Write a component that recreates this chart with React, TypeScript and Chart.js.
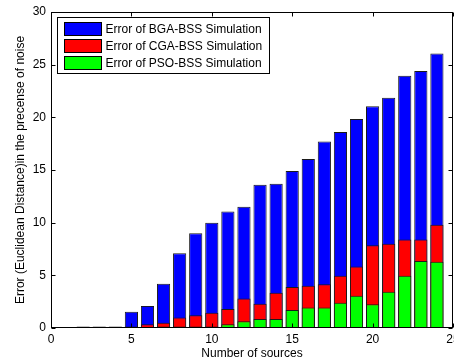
import React, { useEffect, useRef } from 'react';
import { Chart, registerables } from 'chart.js';

Chart.register(...registerables);

const sources = [2, 3, 4, 5, 6, 7, 8, 9, 10, 11, 12, 13, 14, 15, 16, 17, 18, 19, 20, 21, 22, 23, 24];
const bgaError = [0.15, 0.15, 0.15, 1.55, 2.1, 4.2, 7.1, 9.0, 10.0, 11.05, 11.5, 13.6, 13.7, 14.9, 16.05, 17.7, 18.6, 19.85, 21.05, 21.85, 23.95, 24.4, 26.05];
const cgaError = [0, 0, 0, 0.15, 0.35, 0.5, 1.0, 1.2, 1.45, 1.8, 2.8, 2.3, 3.35, 3.9, 4.0, 4.15, 4.95, 5.85, 7.85, 8.0, 8.4, 8.4, 9.8];
const psoError = [0, 0, 0, 0.05, 0.05, 0.15, 0.15, 0.15, 0.15, 0.35, 0.65, 0.85, 0.85, 1.7, 1.95, 1.95, 2.4, 3.05, 2.25, 3.45, 4.95, 6.35, 6.3];
const xTicks = [0, 5, 10, 15, 20, 25];
const yTicks = [0, 5, 10, 15, 20, 25, 30];
const seriesLabels = ['Error of BGA-BSS Simulation', 'Error of CGA-BSS Simulation', 'Error of PSO-BSS Simulation'];
const seriesColors = ['#0000ff', '#ff0000', '#00ff00'];
const xTitle = 'Number of sources';
const yTitle = 'Error (Euclidean Distance)in the precense of noise';

const FONT = "'Liberation Sans', Arial, Helvetica, sans-serif";

const framePlugin = {
  id: 'matlabFrame',
  afterDatasetsDraw(chart: any) {
    const { ctx, chartArea: a, scales } = chart;
    ctx.save();
    ctx.strokeStyle = '#000';
    ctx.lineWidth = 1;
    const L = Math.round(a.left) + 0.5;
    const R = Math.round(a.right) - 0.5;
    const T = Math.round(a.top) + 0.5;
    const B = Math.round(a.bottom) - 0.5;
    ctx.strokeRect(L, T, R - L, B - T);
    const tl = 4;
    ctx.beginPath();
    xTicks.forEach((v) => {
      const x = Math.round(scales.x.getPixelForValue(v)) + 0.5;
      ctx.moveTo(x, B);
      ctx.lineTo(x, B - tl);
      ctx.moveTo(x, T);
      ctx.lineTo(x, T + tl);
    });
    yTicks.forEach((v) => {
      const y = Math.round(scales.y.getPixelForValue(v)) + 0.5;
      ctx.moveTo(L, y);
      ctx.lineTo(L + tl, y);
      ctx.moveTo(R, y);
      ctx.lineTo(R - tl, y);
    });
    ctx.stroke();

    // legend box
    const lx = 57.5, ly = 17.5, lw = 212, lh = 56;
    ctx.fillStyle = '#fff';
    ctx.fillRect(lx, ly, lw, lh);
    ctx.strokeRect(lx, ly, lw, lh);
    ctx.font = `12px ${FONT}`;
    ctx.textBaseline = 'middle';
    ctx.textAlign = 'left';
    seriesLabels.forEach((label, i) => {
      const ry = 22.5 + i * 17;
      ctx.fillStyle = seriesColors[i];
      ctx.fillRect(64.5, ry, 37, 13);
      ctx.strokeRect(64.5, ry, 37, 13);
      ctx.fillStyle = '#000';
      ctx.fillText(label, 105.5, ry + 7);
    });
    ctx.restore();
  },
};

export default function App() {
  const ref = useRef<HTMLCanvasElement>(null);
  useEffect(() => {
    document.body.style.margin = '0';
    document.body.style.overflow = 'hidden';
    const canvas = ref.current!;
    const mk = (vals: number[]) => sources.map((x, i) => ({ x, y: vals[i] }));
    const common = {
      borderColor: '#1a1a1a',
      borderWidth: 1,
      borderSkipped: false,
      grouped: false,
      barPercentage: 0.82,
      categoryPercentage: 1.0,
    };
    const chart = new Chart(canvas, {
      type: 'bar',
      data: {
        datasets: [
          { label: seriesLabels[2], data: mk(psoError), backgroundColor: seriesColors[2], order: 0, ...common },
          { label: seriesLabels[1], data: mk(cgaError), backgroundColor: seriesColors[1], order: 1, ...common },
          { label: seriesLabels[0], data: mk(bgaError), backgroundColor: seriesColors[0], order: 2, ...common },
        ] as any,
      },
      options: {
        animation: false,
        responsive: false,
        devicePixelRatio: 1,
        layout: { autoPadding: false, padding: { top: 12, right: 1, bottom: 0, left: 0 } },
        plugins: { legend: { display: false }, tooltip: { enabled: false } },
        scales: {
          x: {
            type: 'linear',
            min: 0,
            max: 25,
            offset: false,
            grid: { display: false, drawTicks: false },
            border: { display: false },
            afterBuildTicks: (s: any) => { s.ticks = xTicks.map((v) => ({ value: v })); },
            afterFit: (s: any) => { s.height = 34; s.paddingLeft = 0; s.paddingRight = 0; },
            ticks: { color: '#000', font: { family: FONT, size: 12 }, padding: 4, maxRotation: 0, autoSkip: false },
            title: { display: true, text: xTitle, color: '#000', font: { family: FONT, size: 12 }, padding: { top: 0, bottom: 1 } },
          },
          y: {
            type: 'linear',
            min: 0,
            max: 30,
            grid: { display: false, drawTicks: false },
            border: { display: false },
            afterBuildTicks: (s: any) => { s.ticks = yTicks.map((v) => ({ value: v })); },
            afterFit: (s: any) => { s.width = 51; s.paddingTop = 0; s.paddingBottom = 0; },
            ticks: { color: '#000', font: { family: FONT, size: 12 }, padding: 5 },
            title: { display: true, text: yTitle, color: '#000', font: { family: FONT, size: 12 }, padding: { top: 13, bottom: 0 } },
          },
        },
      } as any,
      plugins: [framePlugin],
    });
    return () => chart.destroy();
  }, []);
  return (
    <div style={{ width: 454, height: 362, background: '#fff', overflow: 'hidden' }}>
      <canvas ref={ref} width={454} height={362} />
    </div>
  );
}
